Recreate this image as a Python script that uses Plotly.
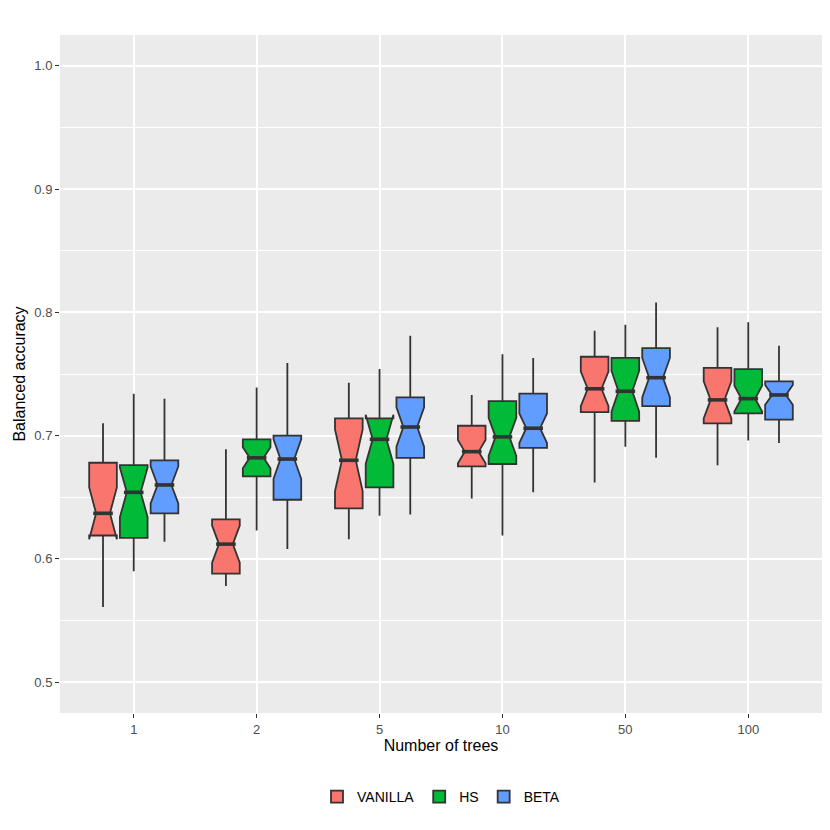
import plotly.graph_objects as go

trees = ["1", "2", "5", "10", "50", "100"]
methods = ["VANILLA", "HS", "BETA"]
colors = {"VANILLA": "#F8766D", "HS": "#00BA38", "BETA": "#619CFF"}

# box statistics, one value per tree count
low = {
    "VANILLA": [0.561, 0.578, 0.616, 0.649, 0.662, 0.676],
    "HS":      [0.590, 0.623, 0.635, 0.619, 0.691, 0.696],
    "BETA":    [0.614, 0.608, 0.636, 0.654, 0.682, 0.694],
}
q1 = {
    "VANILLA": [0.619, 0.588, 0.641, 0.675, 0.719, 0.710],
    "HS":      [0.617, 0.667, 0.658, 0.677, 0.712, 0.718],
    "BETA":    [0.637, 0.648, 0.682, 0.690, 0.724, 0.713],
}
median = {
    "VANILLA": [0.637, 0.612, 0.680, 0.687, 0.738, 0.729],
    "HS":      [0.654, 0.682, 0.697, 0.699, 0.736, 0.730],
    "BETA":    [0.660, 0.681, 0.707, 0.706, 0.747, 0.733],
}
q3 = {
    "VANILLA": [0.678, 0.632, 0.714, 0.708, 0.764, 0.755],
    "HS":      [0.676, 0.697, 0.714, 0.728, 0.763, 0.754],
    "BETA":    [0.680, 0.700, 0.731, 0.734, 0.771, 0.744],
}
high = {
    "VANILLA": [0.710, 0.689, 0.743, 0.733, 0.785, 0.788],
    "HS":      [0.734, 0.739, 0.754, 0.766, 0.790, 0.792],
    "BETA":    [0.730, 0.759, 0.781, 0.763, 0.808, 0.773],
}
notch = {
    "VANILLA": [0.021, 0.015, 0.025, 0.0095, 0.014, 0.015],
    "HS":      [0.020, 0.0085, 0.020, 0.0155, 0.0165, 0.0105],
    "BETA":    [0.015, 0.016, 0.016, 0.012, 0.016, 0.008],
}

fig = go.Figure()
for m in methods:
    fig.add_trace(go.Box(
        name=m,
        x=trees,
        q1=q1[m], median=median[m], q3=q3[m],
        lowerfence=low[m], upperfence=high[m],
        notched=True, notchspan=notch[m], notchwidth=0.25,
        fillcolor=colors[m],
        line=dict(color="#333333", width=1.8),
        whiskerwidth=0,
        boxpoints=False,
        offsetgroup=m,
    ))

# thicker median bars like ggplot's fatten=2
for m in methods:
    fig.add_trace(go.Scatter(
        x=trees, y=median[m], mode="markers",
        marker=dict(symbol="line-ew", size=14, color="#333333",
                    line=dict(color="#333333", width=3.6)),
        offsetgroup=m, showlegend=False, hoverinfo="skip",
    ))

font = "Liberation Sans, Arial, sans-serif"
# the page has an 8px body margin, so margins are shifted to compensate
fig.update_layout(
    width=830, height=830,
    boxmode="group", boxgap=0.25, boxgroupgap=0.1,
    scattermode="group", scattergap=0.25,
    paper_bgcolor="white", plot_bgcolor="#EBEBEB",
    margin=dict(l=52, r=16, t=27, b=125, autoexpand=False),
    font=dict(family=font, color="black"),
    legend=dict(orientation="h", x=0.5, xanchor="center", y=-0.124, yanchor="middle",
                font=dict(size=14), bgcolor="white"),
    showlegend=True,
)
fig.update_xaxes(
    type="category", categoryorder="array", categoryarray=trees,
    range=[-0.6, 5.6], automargin=False,
    showgrid=True, gridcolor="white", gridwidth=2,
    ticks="outside", ticklen=4, tickcolor="#333333", tickwidth=1,
    tickfont=dict(size=13, color="#4D4D4D"),
    title=dict(text="Number of trees", font=dict(size=16), standoff=3),
    zeroline=False, showline=False,
)
fig.update_yaxes(
    range=[0.475, 1.025], automargin=False,
    tickvals=[0.5, 0.6, 0.7, 0.8, 0.9, 1.0], tickformat=".1f",
    showgrid=True, gridcolor="white", gridwidth=2,
    minor=dict(tickvals=[0.55, 0.65, 0.75, 0.85, 0.95], showgrid=True,
               gridcolor="white", gridwidth=1, ticks=""),
    ticks="outside", ticklen=4, tickcolor="#333333", tickwidth=1,
    tickfont=dict(size=13, color="#4D4D4D"),
    title=dict(text="Balanced accuracy", font=dict(size=16), standoff=4),
    zeroline=False, showline=False,
)

fig.write_html("out.html")
